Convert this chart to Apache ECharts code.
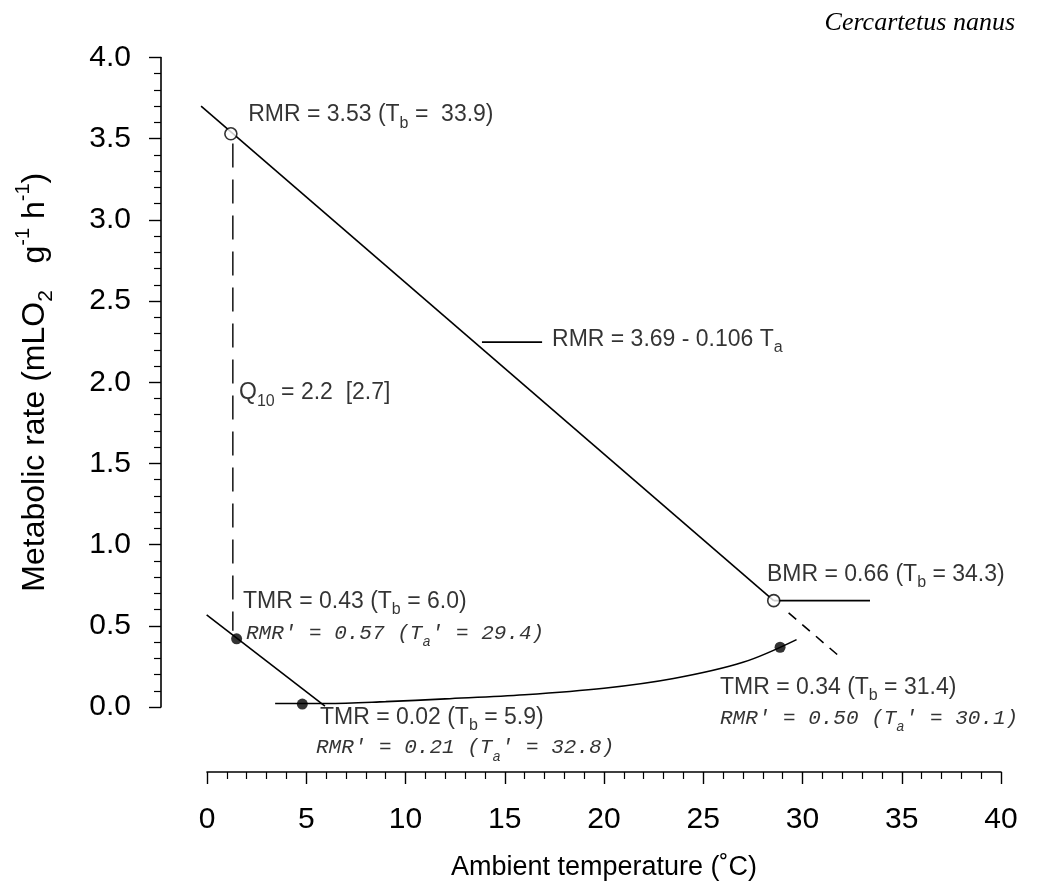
<!DOCTYPE html>
<html>
<head>
<meta charset="utf-8">
<script src="https://cdn.jsdelivr.net/npm/echarts@6/dist/echarts.min.js"></script>
<style>html,body{margin:0;padding:0;background:#fff}#c{width:1046px;height:888px}</style>
</head>
<body>
<div id="c"></div>
<script>
// ---- data ----
const xTicks = [0, 5, 10, 15, 20, 25, 30, 35, 40];
const yTicks = ['0.0', '0.5', '1.0', '1.5', '2.0', '2.5', '3.0', '3.5', '4.0'];

// RMR regression line: RMR = 3.69 - 0.106 Ta
const rmrLine = [[-0.3, 3.70], [28.55, 0.655]];
// dashed continuation of RMR line beyond BMR point
const rmrExtension = [[29.3, 0.58], [31.97, 0.30]];
// BMR plateau in thermoneutral zone
const bmrPlateau = [[28.55, 0.655], [33.4, 0.655]];
// Q10 dashed connector (RMR -> TMR at same Ta)
const q10Connector = [[1.3, 3.47], [1.3, 0.47]];
// torpid metabolic rate, regulating below ~5 C
const tmrRegulating = [[-0.02, 0.567], [5.94, 0.006]];
// torpid metabolic rate, thermoconforming curve
const tmrCurve = [[3.43, 0.022], [6, 0.022], [9, 0.033], [12, 0.05], [16, 0.075], [20, 0.115], [23.5, 0.175], [27, 0.275], [29.7, 0.415]];
// leader line for the regression equation
const equationLeader = [[13.85, 2.247], [16.88, 2.247]];
// open circles: RMR and BMR
const restingPoints = [[1.2, 3.53], [28.55, 0.655]];
// filled circles: TMR
const torpidPoints = [[1.49, 0.42], [4.8, 0.018], [28.87, 0.368]];

// annotation texts and their anchor (left edge, vertical middle) in data coords
const annotationTexts = [
  'RMR = 3.53 (T{b|b} =  33.9)',
  'RMR = 3.69 - 0.106 T{b|a}',
  'Q{b|10} = 2.2  [2.7]',
  'TMR = 0.43 (T{b|b} = 6.0)',
  "{i|RMR' = 0.57 (T}{ia|a}{i|' = 29.4)}",
  'TMR = 0.02 (T{b|b} = 5.9)',
  "{i|RMR' = 0.21 (T}{ia|a}{i|' = 32.8)}",
  'BMR = 0.66 (T{b|b} = 34.3)',
  'TMR = 0.34 (T{b|b} = 31.4)',
  "{i|RMR' = 0.50 (T}{ia|a}{i|' = 30.1)}"
];
const annotationAnchors = [
  [2.07, 3.645], [17.38, 2.26], [1.61, 1.933], [1.81, 0.647], [1.96, 0.456],
  [5.69, -0.068], [5.49, -0.252], [28.21, 0.813], [25.84, 0.117], [25.84, -0.068]
];

const speciesTitle = 'Cercartetus nanus';
const xAxisTitle = 'Ambient temperature (\u02daC)';
const yAxisTitle = 'Metabolic rate (mLO{sub|2}   g{sup|-1} h{sup|-1})';

// ---- chart ----
const SANS = 'Liberation Sans';
const chart = echarts.init(document.getElementById('c'), null, {renderer: 'canvas'});

function lineSeries(data, dashed, extra) {
  return Object.assign({
    type: 'line', xAxisIndex: 0, yAxisIndex: 0, data: data,
    symbol: 'none', silent: true, clip: false, animation: false,
    lineStyle: {color: '#000', width: 1.6, type: dashed ? dashed : 'solid'}
  }, extra || {});
}

const annotationData = annotationTexts.map((t, i) => ({
  value: annotationAnchors[i],
  label: {formatter: t}
}));

const option = {
  backgroundColor: '#fff',
  animation: false,
  title: {
    text: speciesTitle, right: 26, top: 5,
    textStyle: {fontFamily: 'Liberation Serif', fontStyle: 'italic', fontWeight: 'normal', fontSize: 26, color: '#000'}
  },
  grid: [
    {left: 161, right: 45, top: 57.5, bottom: 181, containLabel: false, outerBoundsMode: 'none'},
    {left: 207, right: 45, top: 740, bottom: 116, containLabel: false, outerBoundsMode: 'none'}
  ],
  xAxis: [
    {gridIndex: 0, type: 'value', min: -2.32, max: 40, show: false},
    {
      gridIndex: 1, type: 'value', min: 0, max: 40, interval: 5, position: 'bottom',
      axisLine: {show: true, onZero: false, lineStyle: {color: '#000', width: 1.6}},
      axisTick: {show: true, inside: false, length: 12, lineStyle: {color: '#000', width: 1.4}},
      minorTick: {show: true, splitNumber: 5, length: 7, lineStyle: {color: '#000', width: 1.2}},
      splitLine: {show: false}, minorSplitLine: {show: false},
      axisLabel: {
        margin: 33, color: '#000', fontFamily: SANS, fontSize: 30,
        formatter: v => (xTicks.indexOf(v) >= 0 ? String(v) : '')
      },
      name: xAxisTitle, nameLocation: 'middle', nameGap: 82,
      nameTextStyle: {color: '#000', fontFamily: SANS, fontSize: 27}
    }
  ],
  yAxis: [
    {
      gridIndex: 0, type: 'value', min: 0, max: 4, interval: 0.5, position: 'left',
      axisLine: {show: true, onZero: false, lineStyle: {color: '#000', width: 1.6}},
      axisTick: {show: true, inside: false, length: 12, lineStyle: {color: '#000', width: 1.4}},
      minorTick: {show: true, splitNumber: 5, length: 7, lineStyle: {color: '#000', width: 1.2}},
      splitLine: {show: false}, minorSplitLine: {show: false},
      axisLabel: {
        margin: 30, color: '#000', fontFamily: SANS, fontSize: 30,
        formatter: v => yTicks[Math.round(v / 0.5)]
      },
      name: yAxisTitle, nameLocation: 'middle', nameGap: 104, nameRotate: 90,
      nameTextStyle: {
        color: '#000', fontFamily: SANS, fontSize: 32, lineHeight: 44,
        rich: {
          sub: {fontFamily: SANS, fontSize: 21, lineHeight: 21, verticalAlign: 'bottom', color: '#000'},
          sup: {fontFamily: SANS, fontSize: 20, lineHeight: 21, verticalAlign: 'top', color: '#000'}
        }
      }
    },
    {gridIndex: 1, type: 'value', show: false, min: 0, max: 1}
  ],
  series: [
    lineSeries(rmrLine),
    lineSeries(rmrExtension, [10, 8]),
    lineSeries(bmrPlateau),
    lineSeries(q10Connector, [24, 12], {lineStyle: {color: '#000', width: 1.4, type: [24, 12]}}),
    lineSeries(tmrRegulating),
    lineSeries(tmrCurve, null, {smooth: 0.35}),
    lineSeries(equationLeader),
    {
      type: 'scatter', xAxisIndex: 0, yAxisIndex: 0, data: restingPoints, clip: false, z: 5,
      symbol: 'circle', symbolSize: 12,
      itemStyle: {color: '#fff', borderColor: '#000', borderWidth: 1.6}
    },
    {
      type: 'scatter', xAxisIndex: 0, yAxisIndex: 0, data: torpidPoints, clip: false, z: 5,
      symbol: 'circle', symbolSize: 11,
      itemStyle: {color: '#000'}
    },
    {
      type: 'scatter', xAxisIndex: 0, yAxisIndex: 0, data: annotationData, clip: false, z: 6,
      symbolSize: 0, silent: true,
      label: {
        show: true, position: [0, 0], align: 'left', verticalAlign: 'middle',
        color: '#000', fontFamily: SANS, fontSize: 23, lineHeight: 32,
        rich: {
          b: {fontFamily: SANS, fontSize: 16, lineHeight: 16, verticalAlign: 'bottom', color: '#000'},
          i: {fontFamily: 'Liberation Mono', fontStyle: 'italic', fontSize: 21, lineHeight: 32, color: '#000'},
          ia: {fontFamily: 'Liberation Mono', fontStyle: 'italic', fontSize: 14, lineHeight: 14, verticalAlign: 'bottom', color: '#000'}
        }
      }
    }
  ]
};
chart.setOption(option);
</script>
</body>
</html>
